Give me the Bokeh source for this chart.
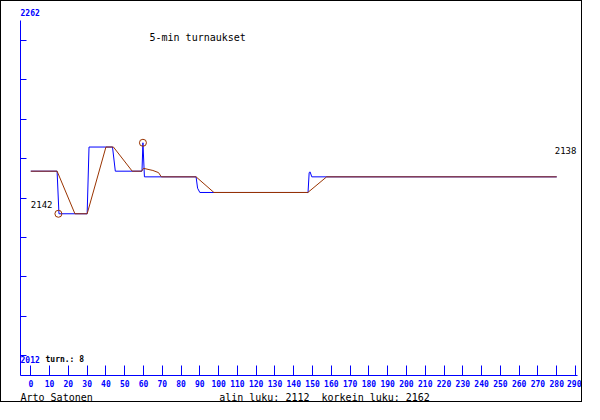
from bokeh.plotting import figure
from bokeh.models import Range1d, FixedTicker, Label, CustomJSTickFormatter, Title
from bokeh.embed import file_html
from bokeh.resources import INLINE

# ---- data ----
# blue: rating after each event
blue_x = [0, 14, 15, 30, 31, 43.5, 45, 59.2, 59.7, 60.5, 88, 88.8, 90, 147.6, 148.2, 148.7, 149.6, 280]
blue_y = [2142, 2142, 2112, 2112, 2159, 2159, 2142, 2142, 2162, 2138, 2138, 2130, 2127, 2127, 2141, 2141.5, 2138, 2138]
# brown: smoothed rating
brown_x = [0, 14, 23.5, 30, 40, 44, 54, 59, 60, 65, 68, 69.5, 88, 97.5, 147.5, 157.5, 280]
brown_y = [2142, 2142, 2112, 2112, 2159, 2159, 2142, 2142, 2144, 2142.5, 2141, 2138, 2138, 2127, 2127, 2138, 2138]
# marked lowest / highest points
mark_x = [14.7, 59.7]
mark_y = [2112, 2162]

x_ticks = list(range(0, 300, 10))
y_label_low = 2012
y_label_high = 2262
n_turn = 8
title_text = "5-min turnaukset"
player = "Arto Satonen"

# ---- styling ----
BLUE = "#0000ff"
BROWN = "#993300"
FONT = "DejaVu Sans Mono"
NB = "\u00a0"

y_step = (y_label_high - y_label_low) / 9
y_ticks = [y_label_low + y_step * j for j in range(9)]

# frame (canvas px): left 19, top 19, bottom 374, right 576 ; canvas 582 x 402
p = figure(width=582, height=402,
           x_range=Range1d(-5.48, 291.06),
           y_range=Range1d(y_label_low - y_step / 2, y_label_high - y_step / 2),
           output_backend="svg", toolbar_location=None,
           min_border_left=19, min_border_top=19,
           min_border_right=6, min_border_bottom=28)
p.styles = {"border": "1px solid black"}
p.background_fill_color = "white"
p.border_fill_color = "white"
p.outline_line_color = None
p.grid.visible = False

# x axis
xa = p.xaxis[0]
xa.ticker = FixedTicker(ticks=x_ticks)
xa.axis_line_color = BLUE
xa.major_tick_line_color = BLUE
xa.major_tick_in = 10
xa.major_tick_out = 0
xa.minor_tick_line_color = None
xa.major_label_text_color = BLUE
xa.major_label_text_font = FONT
xa.major_label_text_font_style = "bold"
xa.major_label_text_font_size = "8px"
xa.major_label_standoff = 4

# y axis
ya = p.yaxis[0]
ya.ticker = FixedTicker(ticks=y_ticks)
ya.axis_line_color = BLUE
ya.major_tick_line_color = BLUE
ya.major_tick_in = 6
ya.major_tick_out = 0
ya.minor_tick_line_color = None
ya.formatter = CustomJSTickFormatter(code="return ''")
ya.major_label_standoff = 0

# lines
p.line(blue_x, blue_y, line_color=BLUE, line_width=1)
p.line(brown_x, brown_y, line_color=BROWN, line_width=1)
p.scatter(mark_x, mark_y, marker="circle", size=7, fill_color=None, line_color=BROWN, line_width=1)

# value labels at first and last point
p.add_layout(Label(x=blue_x[0], y=blue_y[0], y_offset=-33, text=str(int(blue_y[0])),
                   text_font=FONT, text_font_size="9px", text_color="black",
                   text_baseline="middle", text_align="left"))
p.add_layout(Label(x=blue_x[-1], y=blue_y[-1], x_offset=-2, y_offset=26, text=str(int(blue_y[-1])),
                   text_font=FONT, text_font_size="9px", text_color="black",
                   text_baseline="middle", text_align="left"))


def slabel(ex, ey, text, size, color="black", style="normal"):
    # ex, ey: pixel positions in the figure element; converted to frame-relative screen units
    p.add_layout(Label(x=ex - 20, y=375 - ey, x_units="screen", y_units="screen", text=text,
                       text_font=FONT, text_font_size=size, text_color=color,
                       text_font_style=style, text_baseline="middle", text_align="left"))


slabel(20, 359, str(y_label_low), "8px", BLUE, "bold")
slabel(45, 359, "turn.: %d" % n_turn, "8px", "black", "bold")
slabel(149, 37, title_text, "10px")

# texts outside the frame: titles in the side panels
p.add_layout(Title(text=str(y_label_high), align="left", offset=0, standoff=10,
                   text_font=FONT, text_font_size="8px", text_font_style="bold",
                   text_color=BLUE), "above")
left_part = player
mid_part = "alin luku: %d" % min(blue_y)
right_part = "korkein luku: %d" % max(blue_y)
bottom_text = left_part + NB * (33 - len(left_part)) + mid_part + NB * 2 + right_part
p.add_layout(Title(text=bottom_text, align="left", offset=0, standoff=0,
                   text_font=FONT, text_font_size="10px", text_font_style="normal",
                   text_color="black"), "below")

open("out.html", "w").write(file_html(p, INLINE))
